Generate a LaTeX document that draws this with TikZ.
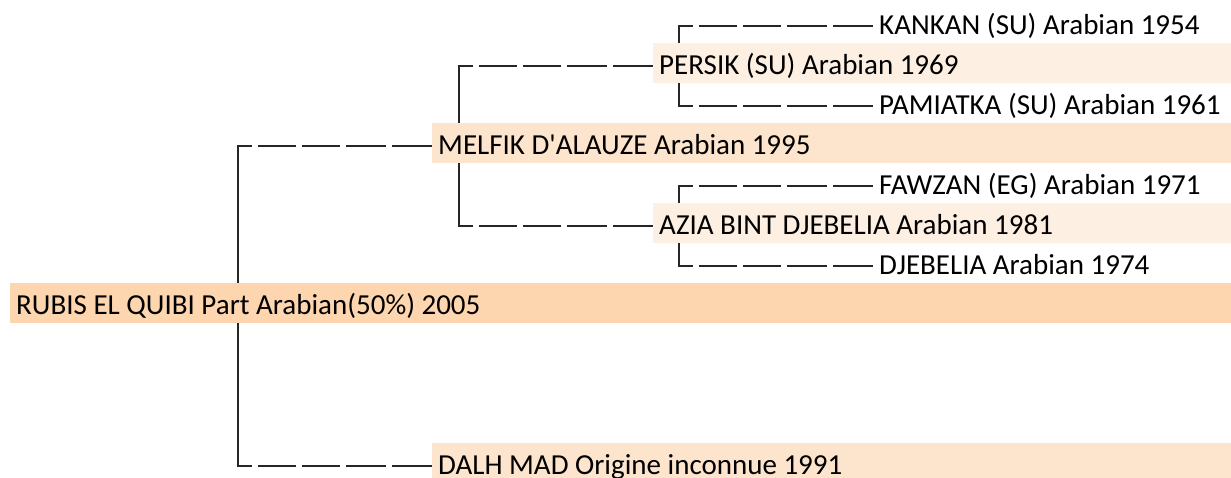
\documentclass[tikz,border=0pt]{standalone}
\usepackage{fontspec}
\setmainfont{Carlito}
\usetikzlibrary{backgrounds}

\definecolor{foal-fill}{HTML}{FDD5AE}
\definecolor{parent-fill}{HTML}{FDE4CC}
\definecolor{grand-fill}{HTML}{FEEFE3}

\tikzstyle{horse} = [anchor=west, inner xsep=6pt, inner ysep=0pt, text height=22pt, text depth=0pt, minimum height=40pt, font=\fontsize{29pt}{35pt}\selectfont]
\tikzstyle{foal-horse} = [horse, fill=foal-fill, execute at begin node={\hbox to 1209pt\bgroup}, execute at end node={\hfil\egroup}]
\tikzstyle{parent-horse} = [horse, fill=parent-fill, execute at begin node={\hbox to 787pt\bgroup}, execute at end node={\hfil\egroup}]
\tikzstyle{grand-horse} = [horse, fill=grand-fill, execute at begin node={\hbox to 566pt\bgroup}, execute at end node={\hfil\egroup}]
\tikzstyle{great-horse} = [horse]
\tikzstyle{branch} = [line width=2.5pt, draw=black!85]
\tikzstyle{stem} = [branch, line cap=rect]
\tikzstyle{twig} = [branch, dash pattern=on 14pt off 6pt on 38pt off 6pt on 38pt off 6pt on 40pt off 6pt on 40pt]

\begin{document}
\begin{tikzpicture}[x=1pt, y=-1pt]

	\useasboundingbox (0,0) rectangle (1231,477);
	\clip (0,0) rectangle (1231,477);

	\node [great-horse] (Kankan) at (873,23) {KANKAN (SU) Arabian 1954};
	\node [grand-horse] (Persik) at (653,63) {PERSIK (SU) Arabian 1969};
	\node [great-horse] (Pamiatka) at (873,103) {PAMIATKA (SU) Arabian 1961};
	\node [parent-horse] (Melfik) at (432,143) {MELFIK D\textquotesingle ALAUZE Arabian 1995};
	\node [great-horse] (Fawzan) at (873,183) {FAWZAN (EG) Arabian 1971};
	\node [grand-horse] (Azia) at (653,223) {AZIA BINT DJEBELIA Arabian 1981};
	\node [great-horse] (Djebelia) at (873,263) {DJEBELIA Arabian 1974};
	\node [foal-horse] (Rubis) at (10,303) {RUBIS EL QUIBI Part Arabian(50\%) 2005};
	\node [parent-horse] (Dalh) at (432,463) {DALH MAD Origine inconnue 1991};

	\begin{pgfonlayer}{background}
	\draw [stem] ([xshift=-194pt,yshift=-3pt]Melfik.west) -- ([xshift=-194pt,yshift=-3pt]Dalh.west);
	\draw [twig] ([xshift=-194pt,yshift=-3pt]Melfik.west) -- ([yshift=-3pt]Melfik.west);
	\draw [twig] ([xshift=-194pt,yshift=-3pt]Dalh.west) -- ([yshift=-3pt]Dalh.west);

	\draw [stem] ([xshift=-194pt,yshift=-3pt]Persik.west) -- ([xshift=-194pt,yshift=-3pt]Azia.west);
	\draw [twig] ([xshift=-194pt,yshift=-3pt]Persik.west) -- ([yshift=-3pt]Persik.west);
	\draw [twig] ([xshift=-194pt,yshift=-3pt]Azia.west) -- ([yshift=-3pt]Azia.west);

	\draw [stem] ([xshift=-194pt,yshift=-3pt]Kankan.west) -- ([xshift=-194pt,yshift=-3pt]Pamiatka.west);
	\draw [twig] ([xshift=-194pt,yshift=-3pt]Kankan.west) -- ([yshift=-3pt]Kankan.west);
	\draw [twig] ([xshift=-194pt,yshift=-3pt]Pamiatka.west) -- ([yshift=-3pt]Pamiatka.west);

	\draw [stem] ([xshift=-194pt,yshift=-3pt]Fawzan.west) -- ([xshift=-194pt,yshift=-3pt]Djebelia.west);
	\draw [twig] ([xshift=-194pt,yshift=-3pt]Fawzan.west) -- ([yshift=-3pt]Fawzan.west);
	\draw [twig] ([xshift=-194pt,yshift=-3pt]Djebelia.west) -- ([yshift=-3pt]Djebelia.west);
	\end{pgfonlayer}

\end{tikzpicture}
\end{document}
